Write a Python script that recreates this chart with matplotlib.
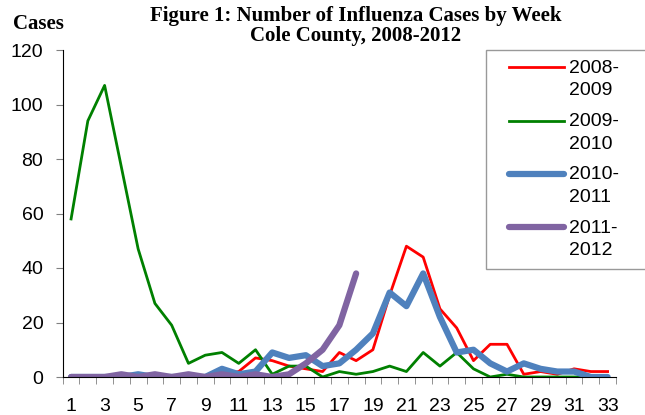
import matplotlib

matplotlib.use("Agg")

import matplotlib.pyplot as plt
from matplotlib.legend_handler import HandlerLine2D
from matplotlib.lines import Line2D
from matplotlib.ticker import FixedLocator

plt.rcParams["font.family"] = ["Liberation Sans", "DejaVu Sans"]

weeks = list(range(1, 34))
season_labels = ["2008-\n2009", "2009-\n2010", "2010-\n2011", "2011-\n2012"]

cases_2008_2009 = [0, 0, 0, 0, 0, 0, 0, 0, 0, 1, 2, 7, 6, 4, 3, 2, 9, 6, 10, 30,
                   48, 44, 25, 18, 6, 12, 12, 1, 2, 1, 3, 2, 2]
cases_2009_2010 = [58, 94, 107, 77, 47, 27, 19, 5, 8, 9, 5, 10, 1, 4, 4, 0, 2, 1, 2, 4,
                   2, 9, 4, 9, 3, 0, 1, 0, 0, 0, 0, 0, 0]
cases_2010_2011 = [0, 0, 0, 0, 1, 0, 0, 0, 0, 3, 1, 2, 9, 7, 8, 4, 5, 10, 16, 31,
                   26, 38, 22, 9, 10, 5, 2, 5, 3, 2, 2, 0, 0]
weeks_2011_2012 = list(range(1, 19))
cases_2011_2012 = [0, 0, 0, 1, 0, 1, 0, 1, 0, 1, 0, 1, 0, 1, 5, 10, 19, 38]


class FirstLineHandler(HandlerLine2D):
    # legend line sits next to the first line of the two-line label, with a left margin
    def create_artists(self, legend, orig_handle, xdescent, ydescent, width, height,
                       fontsize, trans):
        x0 = -xdescent + 0.7 * fontsize
        x1 = -xdescent + width
        y = (height - ydescent) / 2 + 0.62 * fontsize
        line = Line2D([x0, x1], [y, y])
        self.update_prop(line, orig_handle, legend)
        line.set_transform(trans)
        return [line]


fig = plt.figure(figsize=(6.45, 4.15), dpi=100)
ax = fig.add_axes([62.7 / 645, 1 - 377 / 415, (616 - 62.7) / 645, (377 - 50) / 415])

ax.plot(weeks, cases_2008_2009, color="#ff0000", lw=2, label=season_labels[0])
ax.plot(weeks, cases_2009_2010, color="#008000", lw=2, label=season_labels[1])
ax.plot(weeks, cases_2010_2011, color="#4f81bd", lw=4.5, solid_capstyle="round",
        label=season_labels[2])
ax.plot(weeks_2011_2012, cases_2011_2012, color="#8064a2", lw=4.5,
        solid_capstyle="round", label=season_labels[3])

ax.set_xlim(0.5, 33.5)
ax.set_ylim(0, 120)
ax.set_yticks(range(0, 121, 20))
ax.set_xticks(range(1, 34, 2))
ax.xaxis.set_minor_locator(FixedLocator([w + 0.5 for w in range(0, 34)]))
ax.tick_params(axis="x", which="major", length=0, pad=15, labelsize=14)
ax.tick_params(axis="x", which="minor", length=5, color="#808080")
ax.tick_params(axis="y", length=5, color="#808080", labelsize=14, pad=9)
for side in ("top", "right"):
    ax.spines[side].set_visible(False)

handler = FirstLineHandler()
leg = ax.legend(loc="upper left",
                bbox_to_anchor=(486 / 645, 1 - 268 / 415, 177 / 645, 218 / 415),
                bbox_transform=fig.transFigure, mode="expand", borderaxespad=0,
                fontsize=14, frameon=True, fancybox=False, edgecolor="#808080",
                handlelength=3.5, handletextpad=0.25, labelspacing=0.7, borderpad=0.5,
                handler_map={line: handler for line in ax.get_lines()})
leg.get_frame().set_linewidth(1)
for text in leg.get_texts():
    text.set_linespacing(1.44)

fig.text(356 / 645, 1 - 16 / 415, "Figure 1: Number of Influenza Cases by Week",
         ha="center", va="center", fontsize=15, fontweight="bold",
         family="Liberation Serif")
fig.text(356 / 645, 1 - 36 / 415, "Cole County, 2008-2012",
         ha="center", va="center", fontsize=15, fontweight="bold",
         family="Liberation Serif")
fig.text(38.5 / 645, 1 - 24 / 415, "Cases", ha="center", va="center", fontsize=15,
         fontweight="bold", family="Liberation Serif")

fig.savefig("out.png", dpi=100)
